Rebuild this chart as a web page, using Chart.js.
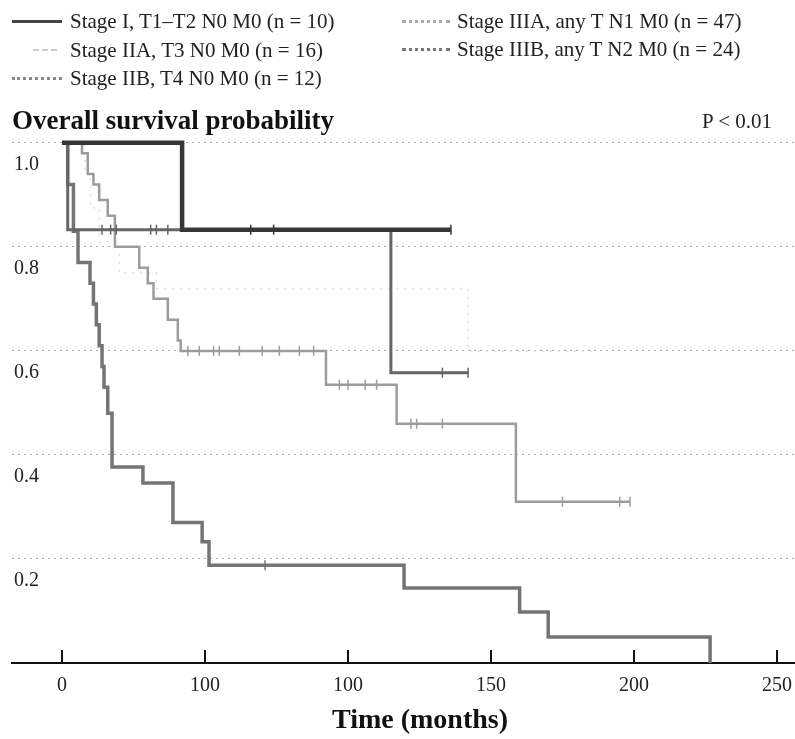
<!DOCTYPE html>
<html>
<head>
<meta charset="utf-8">
<script src="https://cdn.jsdelivr.net/npm/chart.js@4/dist/chart.umd.min.js"></script>
<style>
  html, body { margin: 0; padding: 0; background: #fff; }
  #wrap { position: relative; width: 795px; height: 739px; font-family: "Liberation Serif", "DejaVu Serif", serif; color: #222; }
  #wrap canvas { position: absolute; left: 0; top: 0; }
  .lg { position: absolute; font-size: 21px; line-height: 24px; white-space: nowrap; }
  .mk { position: absolute; height: 0; }
  #ttl { position: absolute; left: 12px; top: 104px; font-size: 27px; line-height: 32px; font-weight: bold; color: #111; }
  #pv { position: absolute; left: 702px; top: 108px; font-size: 21px; line-height: 26px; }
  #xt { position: absolute; left: 420px; top: 703px; transform: translateX(-50%); font-size: 28px; line-height: 32px; font-weight: bold; color: #111; white-space: nowrap; }
</style>
</head>
<body>
<div id="wrap">
  <canvas id="c" width="795" height="739"></canvas>
  <div class="mk" style="left:12px;top:20px;width:50px;border-top:3px solid #444;"></div>
  <div class="lg" style="left:70px;top:9px;">Stage I, T1–T2 N0 M0 (n = 10)</div>
  <div class="mk" style="left:33px;top:49px;width:24px;border-top:2px dashed #ccc;"></div>
  <div class="lg" style="left:70px;top:38px;">Stage IIA, T3 N0 M0 (n = 16)</div>
  <div class="mk" style="left:12px;top:77px;width:50px;border-top:3px dotted #888;"></div>
  <div class="lg" style="left:70px;top:66px;">Stage IIB, T4 N0 M0 (n = 12)</div>
  <div class="mk" style="left:402px;top:20px;width:48px;border-top:3px dotted #aaa;"></div>
  <div class="lg" style="left:457px;top:9px;">Stage IIIA, any T N1 M0 (n = 47)</div>
  <div class="mk" style="left:402px;top:48px;width:48px;border-top:3px dotted #777;"></div>
  <div class="lg" style="left:457px;top:37px;">Stage IIIB, any T N2 M0 (n = 24)</div>
  <div id="ttl">Overall survival probability</div>
  <div id="pv">P &lt; 0.01</div>
  <div id="xt">Time (months)</div>
</div>
<script>
// ---- data ----
const xTickValues = [0, 50, 100, 150, 200, 250];
const xTickLabels = ["0", "100", "100", "150", "200", "250"];
const yTickValues = [0.2, 0.4, 0.6, 0.8, 1.0];
const yTickLabels = ["0.2", "0.4", "0.6", "0.8", "1.0"];

const stageI_t = [0, 42, 136];
const stageI_s = [1.0, 0.833, 0.833];
const stageI_c = [66, 74, 136];

const stageIIA_t = [0, 8, 10, 13, 20, 33, 142, 186];
const stageIIA_s = [1.0, 0.94, 0.875, 0.81, 0.75, 0.72, 0.60, 0.60];
const stageIIA_c = [];

const stageIIB_t = [0, 2, 115, 142];
const stageIIB_s = [1.0, 0.833, 0.558, 0.558];
const stageIIB_c = [14, 17, 19, 31, 33, 37, 133, 142];

const stageIIIA_t = [0, 7, 9, 11, 13, 16, 18.5, 27, 30, 32, 37, 40.5, 41.5, 92.3, 117, 158.7, 198.6];
const stageIIIA_s = [1.0, 0.98, 0.94, 0.92, 0.89, 0.86, 0.80, 0.76, 0.73, 0.70, 0.66, 0.62, 0.60, 0.535, 0.46, 0.31, 0.31];
const stageIIIA_c = [44, 48, 53, 55, 62, 70, 76, 83, 88, 97, 100, 106, 110, 122, 124, 133, 175, 195, 198.6];

const stageIIIB_t = [0, 2, 4, 5.6, 9.8, 11, 12, 13, 14, 14.7, 16, 17.5, 28.3, 38.8, 49, 51.4, 119.6, 160, 170, 226.6];
const stageIIIB_s = [1.0, 0.92, 0.83, 0.77, 0.73, 0.69, 0.65, 0.61, 0.57, 0.53, 0.48, 0.377, 0.346, 0.27, 0.233, 0.188, 0.144, 0.098, 0.05, 0.0];
const stageIIIB_c = [71];

// ---- helpers ----
function pts(t, s) { return t.map((v, i) => ({ x: v, y: s[i] })); }
function survAt(t, s, x) { let v = s[0]; for (let i = 0; i < t.length; i++) if (t[i] <= x) v = s[i]; return v; }
function cens(t, s, c) { return c.map(x => ({ x: x, y: survAt(t, s, x) })); }

const series = [
  { t: stageI_t, s: stageI_s, c: stageI_c, color: '#363636', w: 4.5, dash: [], order: 1 },
  { t: stageIIB_t, s: stageIIB_s, c: stageIIB_c, color: '#666666', w: 3, dash: [], order: 2 },
  { t: stageIIIB_t, s: stageIIIB_s, c: stageIIIB_c, color: '#747474', w: 3.5, dash: [], order: 3 },
  { t: stageIIIA_t, s: stageIIIA_s, c: stageIIIA_c, color: '#9c9c9c', w: 2.5, dash: [], order: 4 },
  { t: stageIIA_t, s: stageIIA_s, c: stageIIA_c, color: '#dedede', w: 1.5, dash: [2, 6], order: 5 }
];

const datasets = [];
series.forEach(se => {
  datasets.push({
    data: pts(se.t, se.s), stepped: true, borderColor: se.color, borderWidth: se.w,
    borderDash: se.dash, pointRadius: 0, fill: false, order: se.order, clip: false
  });
  if (se.c.length) datasets.push({
    data: cens(se.t, se.s, se.c), showLine: false, pointStyle: 'line', rotation: 90,
    pointRadius: 5, borderColor: se.color, borderWidth: 1.5, order: se.order
  });
});

const upTicks = {
  id: 'upTicks',
  afterDatasetsDraw(chart) {
    const sx = chart.scales.x, ctx = chart.ctx, b = chart.chartArea.bottom;
    ctx.save();
    ctx.strokeStyle = '#111'; ctx.lineWidth = 2;
    sx.ticks.forEach(tk => {
      const px = sx.getPixelForValue(tk.value);
      ctx.beginPath(); ctx.moveTo(px, b); ctx.lineTo(px, b - 13); ctx.stroke();
    });
    ctx.restore();
  }
};

new Chart(document.getElementById('c'), {
  type: 'line',
  data: { datasets },
  plugins: [upTicks],
  options: {
    responsive: false, animation: false, devicePixelRatio: 1,
    layout: { autoPadding: false, padding: { top: 135, left: 12, right: 0, bottom: 0 } },
    plugins: { legend: { display: false }, tooltip: { enabled: false } },
    scales: {
      x: {
        type: 'linear', min: -17.48, max: 256.29,
        afterBuildTicks: sc => { sc.ticks = xTickValues.map(v => ({ value: v })); },
        afterFit: sc => { sc.height = 76; sc.paddingLeft = 0; sc.paddingRight = 0; },
        ticks: {
          autoSkip: false, maxRotation: 0, padding: 3, color: '#222',
          font: { family: 'Liberation Serif', size: 20 },
          callback: (v, i) => xTickLabels[i]
        },
        grid: { display: false },
        border: { display: true, color: '#111', width: 2 }
      },
      y: {
        type: 'linear', min: 0, max: 1.015,
        afterBuildTicks: sc => { sc.ticks = yTickValues.map(v => ({ value: v })); },
        afterFit: sc => { sc.width = 0; sc.paddingTop = 0; sc.paddingBottom = 0; },
        ticks: {
          mirror: true, padding: 2, labelOffset: 22, color: '#222',
          font: { family: 'Liberation Serif', size: 20 },
          callback: (v, i) => yTickLabels[i]
        },
        grid: { drawTicks: false, color: '#a8a8a8', lineWidth: 1 },
        border: { display: false, dash: [2, 4] }
      }
    }
  }
});
</script>
</body>
</html>
